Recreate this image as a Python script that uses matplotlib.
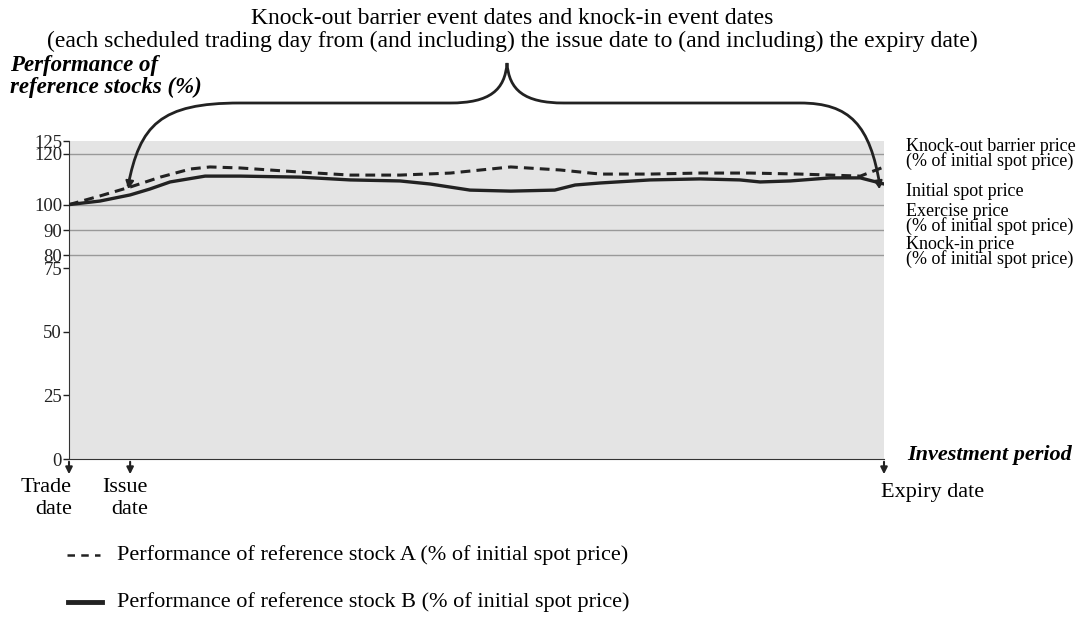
import matplotlib.pyplot as plt
from matplotlib.path import Path
from matplotlib.patches import PathPatch

plt.rcParams["font.family"] = ["Liberation Serif", "DejaVu Serif"]

# investment period position (0 = trade date, 100 = expiry date)
pos_a = [0, 3.8, 7.5, 11.2, 14.9, 17.3, 21, 28.3, 34.5, 40.6, 46.8, 54.2, 60.3, 65.2, 71.3, 77.4, 83.6, 89.7, 97.1, 100]
stock_a = [100, 103.4, 106.9, 110.8, 114.0, 114.8, 114.4, 112.8, 111.6, 111.6, 112.4, 114.8, 113.6, 112.0, 112.0, 112.4, 112.4, 112.0, 111.2, 114.8]

pos_b = [0, 3.8, 7.5, 9.9, 12.4, 16.7, 21, 28.3, 34.5, 40.6, 44.3, 49.2, 54.2, 59.6, 62.1, 65.2, 71.3, 77.4, 82.3, 84.8, 88.5, 93.4, 97.1, 100]
stock_b = [100, 101.4, 103.8, 106.1, 108.9, 111.2, 111.2, 110.8, 109.7, 109.3, 108.1, 105.7, 105.3, 105.7, 107.7, 108.5, 109.7, 110.1, 109.7, 108.9, 109.3, 110.5, 110.5, 108.1]

levels = [120, 100, 90, 80]
yticks = [0, 25, 50, 75, 80, 90, 100, 120, 125]
level_labels = ["Knock-out barrier price\n(% of initial spot price)", "Initial spot price",
                "Exercise price\n(% of initial spot price)", "Knock-in price\n(% of initial spot price)"]
event_pos = [0, 7.5, 100]

W, H = 1084, 617
fig = plt.figure(figsize=(W / 100, H / 100), dpi=100)
ax = fig.add_axes([69 / W, 1 - 459 / H, 815 / W, 318 / H])
ax.set_facecolor("#e4e4e4")
ax.set_xlim(0, 100)
ax.set_ylim(0, 125)
for lv in levels:
    ax.axhline(lv, color="#999999", lw=1, zorder=1)
ax.plot(pos_a, stock_a, color="#222222", lw=2.2, ls=(0, (3.2, 2)), zorder=3)
ax.plot(pos_b, stock_b, color="#222222", lw=2.4, zorder=3)
ax.set_yticks(yticks)
ax.set_yticklabels([str(t) for t in yticks])
ax.tick_params(axis="y", length=4, width=1, pad=1, labelsize=13.5, colors="#222222")
ax.set_xticks([])
for s in ["top", "right"]:
    ax.spines[s].set_visible(False)
ax.spines["left"].set_color("#333333")
ax.spines["bottom"].set_color("#333333")

# overlay in pixel coordinates for annotations
ov = fig.add_axes([0, 0, 1, 1], facecolor="none")
ov.set_xlim(0, W)
ov.set_ylim(H, 0)
ov.axis("off")

def px(xv):
    return 69 + xv / 100 * 815

fs = 16
ov.text(512, 19, "Knock-out barrier event dates and knock-in event dates", ha="center", va="center", fontsize=17)
ov.text(512, 41, "(each scheduled trading day from (and including) the issue date to (and including) the expiry date)",
        ha="center", va="center", fontsize=17)
ov.text(10, 66, "Performance of", ha="left", va="center", fontsize=16.5, style="italic", weight="bold")
ov.text(10, 87, "reference stocks (%)", ha="left", va="center", fontsize=16.5, style="italic", weight="bold")
ov.text(907, 455, "Investment period", ha="left", va="center", fontsize=fs, style="italic", weight="bold")

# right-hand level labels
label_y = [154, 191, 219, 252]
for ly, txt in zip(label_y, level_labels):
    ov.text(906, ly, txt, ha="left", va="center", fontsize=13, linespacing=0.8)

# brace
verts = [(128, 186), (140, 125), (160, 103), (240, 103),
         (450, 103), (490, 103), (505, 90), (507, 63),
         (509, 90), (524, 103), (564, 103),
         (800, 103), (850, 103), (870, 125), (880, 186)]
codes = [Path.MOVETO, Path.CURVE4, Path.CURVE4, Path.CURVE4,
         Path.LINETO, Path.CURVE4, Path.CURVE4, Path.CURVE4,
         Path.CURVE4, Path.CURVE4, Path.CURVE4,
         Path.LINETO, Path.CURVE4, Path.CURVE4, Path.CURVE4]
ov.add_patch(PathPatch(Path(verts, codes), fill=False, lw=2, ec="#222222"))
for x0, dx in [(128, 1), (880, -1)]:
    ov.annotate("", xy=(x0, 192), xytext=(x0 + dx * 1.5, 182),
                arrowprops=dict(arrowstyle="-|>", color="#222222", lw=1.5, mutation_scale=12))

# event arrows below axis
for ep in event_pos:
    xx = px(ep)
    ov.annotate("", xy=(xx, 477), xytext=(xx, 459),
                arrowprops=dict(arrowstyle="-|>", color="#222222", lw=1.5, mutation_scale=10))
ov.text(72, 487, "Trade", ha="right", va="center", fontsize=fs)
ov.text(72, 510, "date", ha="right", va="center", fontsize=fs)
ov.text(148, 487, "Issue", ha="right", va="center", fontsize=fs)
ov.text(148, 510, "date", ha="right", va="center", fontsize=fs)
ov.text(881, 492, "Expiry date", ha="left", va="center", fontsize=fs)

# legend
ov.plot([67, 100], [555, 555], color="#222222", lw=1.8, ls=(0, (3, 2.5)))
ov.plot([68, 102], [602, 602], color="#222222", lw=3.5)
ov.text(117, 555, "Performance of reference stock A (% of initial spot price)", ha="left", va="center", fontsize=fs)
ov.text(117, 602, "Performance of reference stock B (% of initial spot price)", ha="left", va="center", fontsize=fs)

fig.savefig("out.png", dpi=100)
